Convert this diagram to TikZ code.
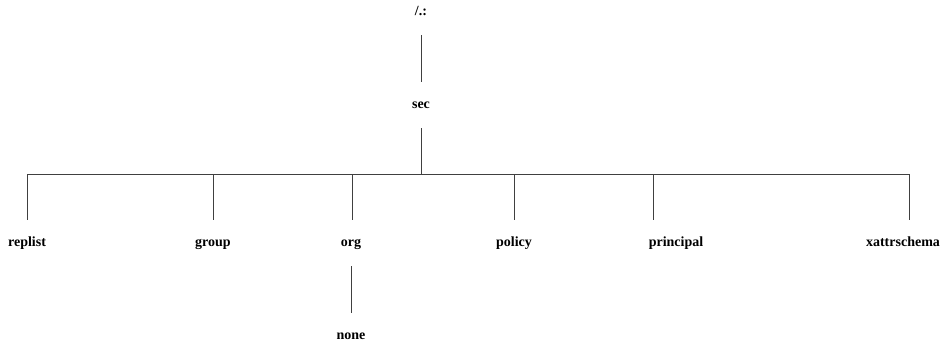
\documentclass[tikz,border=0pt]{standalone}
\usepackage{fontspec}
\setmainfont{Liberation Serif}
\begin{document}
\begin{tikzpicture}[x=1pt,y=-1pt,
  lbl/.style={font=\fontsize{14}{16}\selectfont\bfseries, inner sep=0pt, text height=10pt, text depth=3pt, minimum height=46pt},
  conn/.style={draw=black!75, line width=0.9pt}]
\useasboundingbox (0,0) rectangle (951,347);
\node[lbl] (root) at (421,12) {/.:};
\node[lbl] (sec) at (421,105) {sec};
\coordinate (j) at (421,174);
\node[lbl] (replist) at (27,243) {replist};
\node[lbl] (group) at (213,243) {group};
\node[lbl] (org) at (351,243) {org};
\node[lbl] (policy) at (514,243) {policy};
\node[lbl] (principal) at (676,243) {principal};
\node[lbl] (xattr) at (903,243) {xattrschema};
\node[lbl] (none) at (351,336) {none};
\draw[conn] (root) -- (sec);
\draw[conn] (sec) -- (j);
\draw[conn] (replist.north) |- (j);
\draw[conn] (group.north) |- (j);
\draw[conn] ([xshift=1pt]org.north) |- (j);
\draw[conn] (policy.north) |- (j);
\draw[conn] ([xshift=-23pt]principal.north) |- (j);
\draw[conn] ([xshift=6pt]xattr.north) |- (j);
\draw[conn] (org) -- (none);
\end{tikzpicture}
\end{document}
